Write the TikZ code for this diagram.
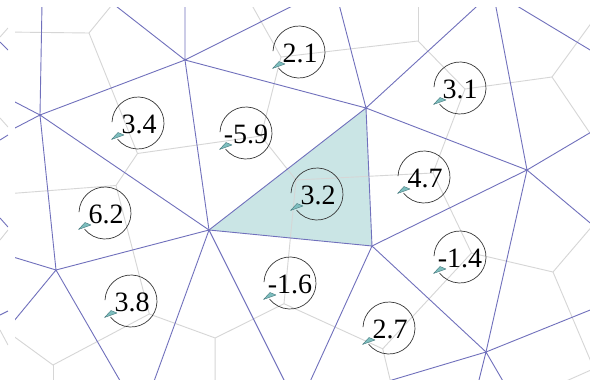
\documentclass[tikz,border=0pt]{standalone}
\usepackage{fontspec}
\setmainfont{Liberation Serif}
\definecolor{delblue}{RGB}{112,112,188}
\definecolor{vorgray}{RGB}{214,214,214}
\definecolor{shadecol}{RGB}{202,229,229}
\definecolor{arrfill}{RGB}{125,190,190}
\definecolor{arrdraw}{RGB}{70,120,125}
\definecolor{ringcol}{RGB}{55,55,55}
\tikzset{
 del/.style={draw=delblue,line width=0.9pt},
 vor/.style={draw=vorgray,line width=0.9pt},
 ring/.style={draw=ringcol,line width=0.7pt},
 val/.style={font=\fontsize{28}{28}\selectfont,inner sep=0pt,text=black},
 circarrow/.pic={
   \draw[ring] (-178:26) arc[start angle=-178,end angle=142,radius=26];
   \filldraw[fill=arrfill,draw=arrdraw,line width=0.4pt,line join=round] (-26.5,16.5) -- (-20,9.5) -- (-14,12) -- cycle;
 }
}
\begin{document}
\begin{tikzpicture}[x=1pt,y=-1pt]
\useasboundingbox (0,0) rectangle (590,380);
\fill[white] (0,0) rectangle (590,380);
% Delaunay vertices
\coordinate (A) at (40,115);
\coordinate (B) at (185,60);
\coordinate (C) at (366,108);
\coordinate (D) at (527,170);
\coordinate (E) at (209,230);
\coordinate (F) at (372,246);
\coordinate (G) at (56,270);
\coordinate (H) at (486,352);
\coordinate (P1) at (43,-51);
\coordinate (Q) at (185,-20);
\coordinate (P2) at (334,-15);
\coordinate (P) at (493,-8.5);
\coordinate (I) at (298,408);
\coordinate (J) at (141,417);
\coordinate (Aul) at (-10,89);
\coordinate (Adl) at (-10,141);
\coordinate (Gul) at (-10,250);
\coordinate (Gdl) at (-10,350);
\coordinate (Pr) at (620,68);
\coordinate (Dr) at (620,115);
\coordinate (Ddr) at (620,248);
\coordinate (Hr) at (620,298);
\coordinate (Hd) at (474,400);
\coordinate (Hdr) at (514,400);
% Voronoi vertices
\coordinate (v1) at (89,33);
\coordinate (v2) at (137.5,153.5);
\coordinate (v3) at (261,136);
\coordinate (v4) at (281,57);
\coordinate (v5) at (418,41);
\coordinate (v6) at (465,89);
\coordinate (v7) at (552,77);
\coordinate (v8) at (296,180);
\coordinate (v9) at (433,173);
\coordinate (v10) at (471.5,253);
\coordinate (v11) at (553,272);
\coordinate (v12) at (116,185.5);
\coordinate (v13) at (149.3,314);
\coordinate (v14) at (215.2,338);
\coordinate (v15) at (284,303.7);
\coordinate (v16) at (382.7,348.8);
\coordinate (v17) at (53,365);
\coordinate (w1) at (5,32);
\coordinate (w2) at (116,0);
\coordinate (w3) at (249,0);
\coordinate (w4) at (418,0);
\coordinate (w5) at (600,11);
\coordinate (w6) at (600,148);
\coordinate (w7) at (600,217);
\coordinate (w8) at (600,383);
\coordinate (w9) at (5,194);
\coordinate (w10) at (215,400);
\coordinate (w11) at (395,400);
\coordinate (w12) at (5,330);
\coordinate (w13) at (53,400);
\coordinate (w14) at (600,366);
\coordinate (w15) at (555,386);
\begin{scope}
\clip (15,7) rectangle (590,380);
\fill[shadecol] (C) -- (E) -- (F) -- cycle;
% Voronoi
\draw[vor] (w1) -- (v1) -- (v2) -- (v3) -- (v4) -- (v5) -- (v6) -- (v7);
\draw[vor] (v1) -- (w2);
\draw[vor] (v4) -- (w3);
\draw[vor] (v5) -- (w4);
\draw[vor] (v7) -- (w5);
\draw[vor] (v7) -- (w6);
\draw[vor] (v6) -- (v9) -- (v10) -- (v11) -- (w7);
\draw[vor] (v11) -- (w8);
\draw[vor] (v3) -- (v8) -- (v9);
\draw[vor] (v8) -- (v15) -- (v16) -- (v10);
\draw[vor] (v16) -- (w11);
\draw[vor] (v2) -- (v12) -- (w9);
\draw[vor] (v12) -- (v13) -- (v14) -- (v15);
\draw[vor] (v14) -- (w10);
\draw[vor] (v13) -- (v17) -- (w12);
\draw[vor] (v17) -- (w13);
\draw[vor] (w14) -- (w15);
% Delaunay
\draw[del] (A) -- (B) (A) -- (E) (A) -- (G) (A) -- (P1) (A) -- (Aul) (A) -- (Adl);
\draw[del] (B) -- (P1) (B) -- (Q) (B) -- (P2) (B) -- (C) (B) -- (E);
\draw[del] (C) -- (P2) (C) -- (P) (C) -- (D) (C) -- (E) (C) -- (F);
\draw[del] (D) -- (P) (D) -- (Dr) (D) -- (Ddr) (D) -- (F) (D) -- (H) (P) -- (Pr);
\draw[del] (E) -- (F) (E) -- (G) (E) -- (J) (E) -- (I) (F) -- (H) (F) -- (I);
\draw[del] (G) -- (Gul) (G) -- (Gdl) (G) -- (J);
\draw[del] (H) -- (I) (H) -- (Hr) (H) -- (Hd) (H) -- (Hdr);
\end{scope}
% stray fragments at the left border
\begin{scope}
\clip (0,7) rectangle (8,380);
\draw[vor] (8,28) -- (0,37);
\draw[del] (0,42) -- (8,50);
\draw[vor] (0,118) -- (8,127);
\draw[del] (0,140) -- (8,135);
\draw[del] (0,218) -- (8,227);
\draw[vor] (8,230) -- (0,240);
\draw[del] (0,315) -- (8,311);
\draw[vor] (0,330) -- (8,345);
\end{scope}
% circulation markers
\pic at (299,52) {circarrow};
\node[val] (n21) at (300,53) {2.1};
\pic at (138,123) {circarrow};
\node[val] (n34) at (139,124) {3.4};
\pic at (246,133) {circarrow};
\node[val] (n59) at (246,134) {-5.9};
\pic at (460,88) {circarrow};
\node[val] (n31) at (460,89) {3.1};
\pic at (424,177) {circarrow};
\node[val] (n47) at (425,178) {4.7};
\pic at (317,194) {circarrow};
\node[val] (n32) at (318,195) {3.2};
\pic at (105,213) {circarrow};
\node[val] (n62) at (106,214) {6.2};
\pic at (131,301) {circarrow};
\node[val] (n38) at (132,302) {3.8};
\pic at (290,283) {circarrow};
\node[val] (n16) at (290,284) {-1.6};
\pic at (460,257) {circarrow};
\node[val] (n14) at (460,258) {-1.4};
\pic at (389,328) {circarrow};
\node[val] (n27) at (390,329) {2.7};
\end{tikzpicture}
\end{document}
